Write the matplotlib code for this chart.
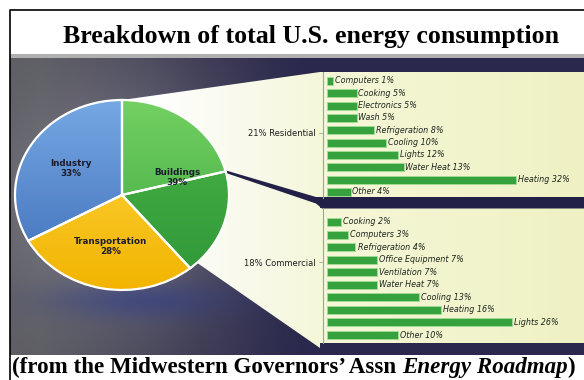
import numpy as np
import matplotlib
matplotlib.use("Agg")
import matplotlib.pyplot as plt
from matplotlib.patches import Polygon, Rectangle
from matplotlib.colors import to_rgb

W, H = 584, 380

# pie: share of total US energy use
sectors = ["Industry", "Transportation", "Buildings"]
sector_pct = [33, 28, 39]
buildings_split = [21, 18]          # residential, commercial

res_uses = ["Computers", "Cooking", "Electronics", "Wash", "Refrigeration",
            "Cooling", "Lights", "Water Heat", "Heating", "Other"]
res_pct = [1, 5, 5, 5, 8, 10, 12, 13, 32, 4]

com_uses = ["Cooking", "Computers", "Refrigeration", "Office Equipment",
            "Ventilation", "Water Heat", "Cooling", "Heating", "Lights", "Other"]
com_pct = [2, 3, 4, 7, 7, 7, 13, 16, 26, 10]

fig = plt.figure(figsize=(W / 100, H / 100), dpi=100)
fig.patch.set_facecolor("white")
bg = fig.add_axes([0, 0, 1, 1])
bg.set_xlim(0, W)
bg.set_ylim(H, 0)
bg.axis("off")


def px_axes(x0, y0, x1, y1):
    return fig.add_axes([x0 / W, 1 - y1 / H, (x1 - x0) / W, (y1 - y0) / H])


def ramp(t, stops):
    pos = np.array([s[0] for s in stops], dtype=float)
    cols = np.array([to_rgb(s[1]) for s in stops])
    out = np.empty(t.shape + (3,))
    for k in range(3):
        out[..., k] = np.interp(t, pos, cols[:, k])
    return out


# frame, title, rule
bg.plot([10, 10, W], [H, 10, 10], color="black", lw=1.2)
bg.text(311, 37, "Breakdown of total U.S. energy consumption",
        family="Liberation Serif", weight="bold", fontsize=18.6,
        ha="center", va="center")
bg.add_patch(Rectangle((10, 54), W - 10, 4, color="#b0b0b0", lw=0))

# dark backdrop
yy, xx = np.mgrid[58:355, 10:W].astype(float)
side = np.clip((xx - 40) / 260, 0, 1)
base = ramp(side, [(0, "#5c5c62"), (0.6, "#3c3a52"), (1, "#2a284c")])
glow = np.exp(-(((xx - 120) / 110) ** 2 + ((yy - 200) / 110) ** 2))[..., None]
base = base * (1 - 0.6 * glow) + np.array(to_rgb("#9a98a8")) * 0.6 * glow
shadow = np.exp(-(((xx - 140) / 90) ** 2 + ((yy - 300) / 18) ** 2))[..., None]
base = base * (1 - 0.5 * shadow) + np.array(to_rgb("#2a3a8a")) * 0.5 * shadow
bg.imshow(base, extent=(10, W, 355, 58), aspect="auto", zorder=1)

# light "zoom" wedge and the two panels
cx, cy, rx, ry = 122, 195, 107, 95
xs = np.linspace(100, W, 400)[None, :] * np.ones((50, 1))
light = ramp(xs, [(150, "#ffffff"), (260, "#f8f9e8"), (330, "#f5f7d8"), (W, "#eff1c3")])
shapes = [
    Polygon([(cx, cy - ry), (320, 72), (320, 348), (193, 260), (cx, cy)], closed=True),
    Rectangle((320, 72), W - 320, 126),
    Rectangle((320, 208), W - 320, 135),
]
for shp in shapes:
    shp.set_facecolor("none")
    shp.set_edgecolor("none")
    bg.add_patch(shp)
    im = bg.imshow(light, extent=(100, W, H, 0), aspect="auto", zorder=2)
    im.set_clip_path(shp)

# dark divider from the residential/commercial split to the gap
split = np.deg2rad(90 - 360 * buildings_split[0] / 100)
sx, sy = cx + rx * np.cos(split), cy - ry * np.sin(split)
bg.add_patch(Polygon([(sx, sy - 1), (316, 197), (W, 197), (W, 208.5),
                      (322, 208.5), (316, 203.5), (sx, sy + 1.5)],
                     closed=True, color="#222046", lw=0, zorder=3))
bg.set_xlim(0, W)
bg.set_ylim(H, 0)

# pie
pad = 1.1
pax = px_axes(cx - rx * pad, cy - ry * pad, cx + rx * pad, cy + ry * pad)
vals = [buildings_split[0], buildings_split[1], sector_pct[1], sector_pct[0]]
wedges, _ = pax.pie(vals, startangle=90, counterclock=False,
                    colors=["#52bb4a", "#45b044", "#f7c100", "#4a80c8"],
                    wedgeprops=dict(edgecolor="white", linewidth=1.6))
grads = [("#74d062", "#3aa63e"), ("#4cb646", "#2e9638"),
         ("#ffd94a", "#f2b400"), ("#76a8e4", "#3d6cb6")]
gy = np.linspace(0, 1, 200)[:, None] * np.ones((1, 200))
for w, (top, bot) in zip(wedges, grads):
    im = pax.imshow(ramp(gy, [(0, top), (1, bot)]), extent=(-1, 1, -1, 1),
                    aspect="auto", zorder=1)
    im.set_clip_path(w)
    w.set_facecolor("none")
    w.set_zorder(2)
pax.set_xlim(-pad, pad)
pax.set_ylim(-pad, pad)
pax.set_aspect("auto")
pax.axis("off")

# sector labels at mid-angle of each sector (clockwise from top: Buildings, Transportation, Industry)
order = [2, 1, 0]
start = 0
for idx in order:
    mid = np.deg2rad(90 - 360 * (start + sector_pct[idx] / 2) / 100)
    pax.text(0.55 * np.cos(mid), 0.55 * np.sin(mid),
             f"{sectors[idx]}\n{sector_pct[idx]}%", ha="center", va="center",
             fontsize=6.3, weight="bold", color="#1c1c2c", linespacing=1.1,
             zorder=5)
    start += sector_pct[idx]


def usage_panel(y0, y1, first_row, row_step, px_per, uses, pct, label, label_row):
    ax = px_axes(323, y0, W, y1)
    ax.patch.set_visible(False)
    n = len(uses)
    ax.barh(range(n), pct, height=0.64, color="#36a23e", edgecolor="#a4dc98",
            linewidth=0.6)
    for i, (u, v) in enumerate(zip(uses, pct)):
        ax.text(v + 0.3, i, f"{u} {v}%", va="center", ha="left",
                fontsize=5.8, style="italic", color="#1e261e")
    ax.set_ylim((y1 - first_row) / row_step, (y0 - first_row) / row_step)
    ax.set_xlim(-4 / px_per, (W - 323) / px_per - 4 / px_per)
    for s in ["top", "right", "bottom"]:
        ax.spines[s].set_visible(False)
    ax.spines["left"].set_color("#9aa890")
    ax.spines["left"].set_linewidth(0.8)
    ax.set_xticks([])
    ax.set_yticks([label_row], [label], fontsize=6, color="#1e1e1e")
    ax.tick_params(axis="y", length=3, width=0.6, color="#9aa890", pad=2)
    return ax


usage_panel(72, 198, 81, 12.33, 5.9, res_uses, res_pct,
            f"{buildings_split[0]}% Residential", 4.2)
usage_panel(208, 343, 222, 12.56, 7.1, com_uses, com_pct,
            f"{buildings_split[1]}% Commercial", 3.2)

# caption with italic title
cap_kw = dict(family="Liberation Serif", weight="bold", fontsize=16.6)
c1 = bg.text(12, 367, "(from the Midwestern Governors’ Assn ",
             ha="left", va="center", **cap_kw)
c2 = bg.annotate("Energy Roadmap", xy=(1, 0), xycoords=c1, ha="left",
                 va="bottom", style="italic", **cap_kw)
bg.annotate(")", xy=(1, 0), xycoords=c2, ha="left", va="bottom", **cap_kw)

fig.savefig("out.png", dpi=100)
